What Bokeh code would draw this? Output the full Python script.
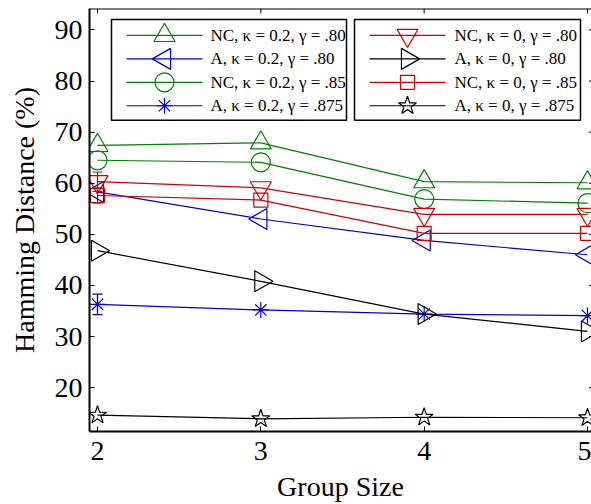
import math
from bokeh.plotting import figure
from bokeh.models import ColumnDataSource, Whisker, TeeHead, FixedTicker, Range1d, Span
from bokeh.core.properties import value
from bokeh.embed import file_html
from bokeh.resources import INLINE

# ---------------- data ----------------
group_size = [2, 3, 4, 5]
series_labels = [
    "NC, κ = 0.2, γ = .80", "A, κ = 0.2, γ = .80", "NC, κ = 0.2, γ = .85", "A, κ = 0.2, γ = .875",
    "NC, κ = 0, γ = .80", "A, κ = 0, γ = .80", "NC, κ = 0, γ = .85", "A, κ = 0, γ = .875",
]
nc_k02_g80 = [67.4, 67.9, 60.3, 60.1]
a_k02_g80 = [58.3, 53.0, 48.8, 46.0]
nc_k02_g85 = [64.5, 64.1, 56.9, 56.1]
a_k02_g875 = [36.3, 35.2, 34.4, 34.1]
nc_k0_g80 = [60.3, 59.1, 53.9, 53.9]
a_k0_g80 = [46.8, 40.8, 34.4, 31.0]
nc_k0_g85 = [57.6, 56.7, 50.2, 50.2]
a_k0_g875 = [14.6, 13.9, 14.2, 14.1]

# error bars (only visible at group size 2)
nc_k0_g80_err = [1.9, 0, 0, 0]
nc_k0_g85_err = [1.5, 0, 0, 0]
a_k02_g875_err = [2.0, 0, 0, 0]

x_ticks = [2, 3, 4, 5]
y_ticks = [20, 30, 40, 50, 60, 70, 80, 90]

# ---------------- styles ----------------
GREEN, BLUE, RED, BLACK = "#008000", "#0000d0", "#d00000", "#000000"
FONT = "Liberation Serif"
series = [
    (nc_k02_g80, None, GREEN, "triangle", 0.0, 21),
    (a_k02_g80, None, BLUE, "triangle", math.pi / 2, 21),
    (nc_k02_g85, None, GREEN, "circle", 0.0, 19),
    (a_k02_g875, a_k02_g875_err, BLUE, "asterisk", 0.0, 16),
    (nc_k0_g80, nc_k0_g80_err, RED, "inverted_triangle", 0.0, 21),
    (a_k0_g80, None, BLACK, "triangle", -math.pi / 2, 21),
    (nc_k0_g85, nc_k0_g85_err, RED, "square", 0.0, 14),
    (a_k0_g875, None, BLACK, "star", 0.0, 19),
]

X0, X1 = 1.951, 5.0245
Y0, Y1 = 11.41, 94.2
W, H = 591, 504
FL, FR, FT, FB = 89, 591, 8, 432
TICK = 5  # px, inward tick length


def dx(px):
    return X0 + (px - FL) / (FR - FL) * (X1 - X0)


def dy(py):
    return Y1 - (py - FT) / (FB - FT) * (Y1 - Y0)


p = figure(width=W, height=H, output_backend="svg", toolbar_location=None,
           x_range=Range1d(X0, X1), y_range=Range1d(Y0, Y1),
           min_border_left=FL, min_border_right=W - FR, min_border_top=FT,
           min_border_bottom=H - FB)
p.outline_line_color = None
p.grid.visible = False
p.background_fill_color = "white"
p.border_fill_color = "white"

for ax in (p.xaxis[0], p.yaxis[0]):
    ax.major_tick_in = TICK
    ax.major_tick_out = 0
    ax.minor_tick_line_color = None
    ax.axis_line_width = 2
    ax.major_tick_line_width = 1
    ax.major_label_text_font = FONT
    ax.major_label_text_font_size = "28px"
    ax.major_label_text_color = "black"
    ax.axis_label_text_font = FONT
    ax.axis_label_text_font_size = "28px"
    ax.axis_label_text_font_style = "normal"
    ax.axis_label_text_color = "black"

p.xaxis.ticker = FixedTicker(ticks=x_ticks)
p.yaxis.ticker = FixedTicker(ticks=y_ticks)
p.xaxis.axis_label = "Group Size"
p.yaxis.axis_label = "Hamming Distance (%)"
p.xaxis.major_label_standoff = 10
p.yaxis.major_label_standoff = 7
p.xaxis.axis_label_standoff = 8
p.yaxis.axis_label_standoff = 12

# top border with inward ticks, right-side tick stubs (right border is cut off)
p.add_layout(Span(location=Y1, dimension="width", line_color="black", line_width=2))
tick_dy = TICK * (Y1 - Y0) / (FB - FT)
p.segment(x0=x_ticks, x1=x_ticks, y0=[Y1] * len(x_ticks), y1=[Y1 - tick_dy] * len(x_ticks),
          line_color="black", line_width=1)
p.segment(x0=[dx(FR - 2.5)] * len(y_ticks), x1=[X1] * len(y_ticks), y0=y_ticks, y1=y_ticks,
          line_color="black", line_width=1)

# ---------------- series ----------------
for vals, err, color, marker, ang, size in series:
    src = ColumnDataSource(dict(x=group_size, y=vals))
    p.line("x", "y", source=src, line_color=color, line_width=1.2)
    p.scatter("x", "y", source=src, marker=marker, angle=ang, size=size,
              fill_color=None, line_color=color, line_width=1.2)
    if err is not None:
        ex = [g for g, e in zip(group_size, err) if e > 0]
        lo = [v - e for v, e in zip(vals, err) if e > 0]
        hi = [v + e for v, e in zip(vals, err) if e > 0]
        esrc = ColumnDataSource(dict(base=ex, lower=lo, upper=hi))
        wk = Whisker(base="base", lower="lower", upper="upper", source=esrc,
                     line_color=color, line_width=1.2,
                     upper_head=TeeHead(size=10, line_color=color, line_width=1.2),
                     lower_head=TeeHead(size=10, line_color=color, line_width=1.2))
        p.add_layout(wk)

# ---------------- legend (two boxes) ----------------
boxes = [(111, 346), (354, 580)]
box_top, box_bot = 19, 120
row_y = [35, 58.5, 82, 105.5]
cols = [(126, 202, 164, 210), (369, 445, 407, 454)]

for (bl, br) in boxes:
    p.quad(left=dx(bl), right=dx(br), top=dy(box_top), bottom=dy(box_bot),
           fill_color="white", line_color="black", line_width=1.5)

for i, (vals, err, color, marker, ang, size) in enumerate(series):
    c = cols[i // 4]
    ry = dy(row_y[i % 4])
    p.line([dx(c[0]), dx(c[1])], [ry, ry], line_color=color, line_width=1.2)
    p.scatter([dx(c[2])], [ry], marker=marker, angle=ang, size=size,
              fill_color=None, line_color=color, line_width=1.2)
    p.text([dx(c[3])], [ry], text=[series_labels[i]], text_font=value(FONT),
           text_font_size="17px", text_baseline="middle", text_align="left",
           text_color="black")

open("out.html", "w").write(file_html(p, INLINE))
